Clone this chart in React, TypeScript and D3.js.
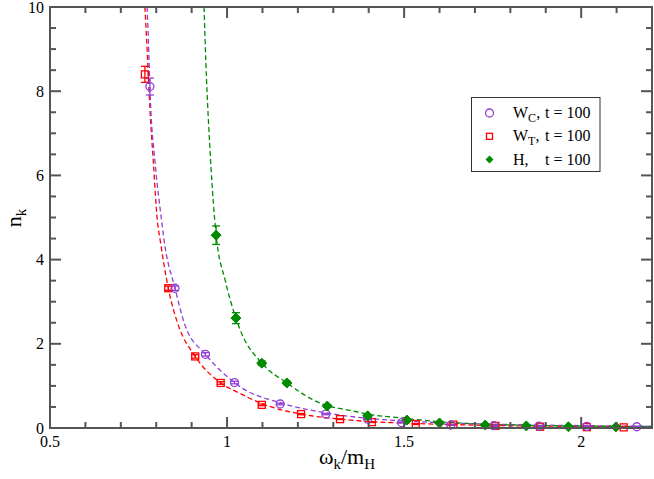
import * as d3 from 'd3';
import React, { useEffect, useRef } from 'react';

// W_C, t = 100 (open circles)
const wcX = [0.782, 0.853, 0.939, 1.021, 1.15, 1.279, 1.397, 1.493, 1.632, 1.754, 1.881, 2.016, 2.157];
const wcY = [8.11, 3.32, 1.75, 1.08, 0.57, 0.33, 0.21, 0.13, 0.07, 0.055, 0.045, 0.04, 0.03];
const wcErr = [0.2, 0.05, 0.04, 0.03, 0.02, 0.015, 0.01, 0.01, 0.01, 0.01, 0.01, 0.01, 0.01];

// W_T, t = 100 (open squares)
const wtX = [0.768, 0.834, 0.91, 0.982, 1.098, 1.209, 1.319, 1.409, 1.533, 1.639, 1.758, 1.884, 2.016, 2.12];
const wtY = [8.4, 3.32, 1.7, 1.07, 0.55, 0.33, 0.21, 0.14, 0.095, 0.08, 0.05, 0.03, 0.02, 0.015];
const wtErr = [0.19, 0.05, 0.04, 0.03, 0.02, 0.015, 0.01, 0.01, 0.01, 0.01, 0.01, 0.01, 0.01, 0.01];

// H, t = 100 (filled diamonds)
const hX = [0.969, 1.025, 1.098, 1.169, 1.283, 1.397, 1.508, 1.6, 1.729, 1.845, 1.964, 2.098];
const hY = [4.58, 2.61, 1.54, 1.07, 0.52, 0.29, 0.19, 0.12, 0.07, 0.05, 0.03, 0.025];
const hErr = [0.22, 0.13, 0.05, 0.04, 0.03, 0.02, 0.015, 0.01, 0.01, 0.01, 0.01, 0.01];

// dashed fit curves
const wcFitX = [0.774, 0.778, 0.782, 0.797, 0.815, 0.822, 0.853, 0.881, 0.939, 1.021, 1.037, 1.15, 1.279, 1.397, 1.489, 1.63, 1.75, 1.88, 2.02, 2.2];
const wcFitY = [10, 9.2, 8.11, 6.29, 4.94, 4.47, 3.32, 2.45, 1.75, 1.08, 0.98, 0.6, 0.36, 0.23, 0.17, 0.12, 0.09, 0.07, 0.055, 0.04];
const wtFitX = [0.768, 0.773, 0.782, 0.792, 0.803, 0.811, 0.834, 0.862, 0.91, 0.982, 1.037, 1.098, 1.209, 1.319, 1.409, 1.489, 1.6, 1.75, 1.9, 2.05, 2.2];
const wtFitY = [10, 9.2, 7.6, 6.29, 4.94, 4.47, 3.32, 2.45, 1.7, 1.07, 0.82, 0.58, 0.33, 0.21, 0.15, 0.12, 0.09, 0.06, 0.045, 0.035, 0.028];
const hFitX = [0.935, 0.938, 0.954, 0.969, 0.995, 1.025, 1.037, 1.098, 1.169, 1.263, 1.283, 1.347, 1.397, 1.489, 1.6, 1.73, 1.85, 1.96, 2.1, 2.2];
const hFitY = [10, 9.2, 6.29, 4.6, 3.5, 2.61, 2.33, 1.54, 1.07, 0.59, 0.53, 0.42, 0.33, 0.24, 0.15, 0.09, 0.065, 0.05, 0.04, 0.035];

const xTicks = [0.5, 1, 1.5, 2];
const yTicks = [0, 2, 4, 6, 8, 10];

const PURPLE = '#9040d8';
const RED = '#ff0000';
const GREEN = '#008a00';
const AXIS = '#555';
const FONT = 'Liberation Serif, Times New Roman, serif';

const W = 654;
const H = 479;
const margin = { left: 50, top: 7, right: 2, bottom: 51 };

const App: React.FC = () => {
  const ref = useRef<SVGSVGElement | null>(null);

  useEffect(() => {
    const svg = d3.select(ref.current);
    svg.selectAll('*').remove();

    const x0 = margin.left;
    const x1 = W - margin.right;
    const y0 = H - margin.bottom;
    const y1 = margin.top;

    const x = d3.scaleLinear().domain([0.5, 2.2]).range([x0, x1]);
    const y = d3.scaleLinear().domain([0, 10]).range([y0, y1]);

    svg.append('rect').attr('width', W).attr('height', H).attr('fill', '#fff');

    svg
      .append('clipPath')
      .attr('id', 'plot-clip')
      .append('rect')
      .attr('x', x0)
      .attr('y', y1)
      .attr('width', x1 - x0)
      .attr('height', y0 - y1);

    // Fit curves
    const line = d3
      .line<[number, number]>()
      .x(d => x(d[0]))
      .y(d => y(d[1]))
      .curve(d3.curveMonotoneX);

    const fits: [number[], number[], string][] = [
      [wtFitX, wtFitY, RED],
      [wcFitX, wcFitY, PURPLE],
      [hFitX, hFitY, GREEN],
    ];
    const curves = svg.append('g').attr('clip-path', 'url(#plot-clip)');
    fits.forEach(([xs, ys, color]) => {
      curves
        .append('path')
        .datum(xs.map((v, i) => [v, ys[i]] as [number, number]))
        .attr('d', line)
        .attr('fill', 'none')
        .attr('stroke', color)
        .attr('stroke-width', 1.3)
        .attr('stroke-dasharray', '5,3');
    });

    // Error bars
    const errBars = (xs: number[], ys: number[], es: number[], color: string) => {
      const g = svg.append('g').attr('stroke', color).attr('stroke-width', 1.3);
      xs.forEach((v, i) => {
        const cx = x(v);
        const top = y(ys[i] + es[i]);
        const bot = y(ys[i] - es[i]);
        g.append('line').attr('x1', cx).attr('x2', cx).attr('y1', top).attr('y2', bot);
        g.append('line').attr('x1', cx - 4).attr('x2', cx + 4).attr('y1', top).attr('y2', top);
        g.append('line').attr('x1', cx - 4).attr('x2', cx + 4).attr('y1', bot).attr('y2', bot);
      });
    };
    errBars(wtX, wtY, wtErr, RED);
    errBars(wcX, wcY, wcErr, PURPLE);
    errBars(hX, hY, hErr, GREEN);

    // Markers
    const drawCircle = (g: any, cx: number, cy: number) =>
      g.append('circle').attr('cx', cx).attr('cy', cy).attr('r', 4).attr('fill', 'none').attr('stroke', PURPLE).attr('stroke-width', 1.3);
    const drawSquare = (g: any, cx: number, cy: number) =>
      g.append('rect').attr('x', cx - 3.5).attr('y', cy - 3.5).attr('width', 7).attr('height', 7).attr('fill', 'none').attr('stroke', RED).attr('stroke-width', 1.3);
    const drawDiamond = (g: any, cx: number, cy: number) =>
      g
        .append('path')
        .attr('d', `M${cx},${cy - 5}L${cx + 5},${cy}L${cx},${cy + 5}L${cx - 5},${cy}Z`)
        .attr('fill', GREEN)
        .attr('stroke', GREEN)
        .attr('stroke-width', 1);

    const marks = svg.append('g');
    wtX.forEach((v, i) => drawSquare(marks, x(v), y(wtY[i])));
    wcX.forEach((v, i) => drawCircle(marks, x(v), y(wcY[i])));
    hX.forEach((v, i) => drawDiamond(marks, x(v), y(hY[i])));

    // Frame and ticks (inward, mirrored)
    const axes = svg.append('g').attr('stroke', AXIS).attr('fill', 'none');
    axes
      .append('rect')
      .attr('x', x0)
      .attr('y', y1)
      .attr('width', x1 - x0)
      .attr('height', y0 - y1)
      .attr('stroke-width', 2);

    const xMinor = d3.range(6, 22).map(d => d / 10);
    xMinor.forEach(v => {
      const major = Math.abs(v * 2 - Math.round(v * 2)) < 1e-6;
      const len = major ? 11 : 6;
      const px = x(v);
      axes.append('line').attr('x1', px).attr('x2', px).attr('y1', y0).attr('y2', y0 - len).attr('stroke-width', 2);
      axes.append('line').attr('x1', px).attr('x2', px).attr('y1', y1).attr('y2', y1 + len).attr('stroke-width', 2);
    });
    const yMinor = d3.range(1, 20).map(d => d / 2);
    yMinor.forEach(v => {
      const major = v % 2 === 0;
      const len = major ? 11 : 6;
      const py = y(v);
      axes.append('line').attr('x1', x0).attr('x2', x0 + len).attr('y1', py).attr('y2', py).attr('stroke-width', 2);
      axes.append('line').attr('x1', x1).attr('x2', x1 - len).attr('y1', py).attr('y2', py).attr('stroke-width', 2);
    });

    // Tick labels
    const labels = svg.append('g').attr('font-family', FONT).attr('font-size', 16).attr('fill', '#000');
    xTicks.forEach(v => {
      labels.append('text').attr('x', x(v)).attr('y', y0 + 19).attr('text-anchor', 'middle').text(String(v));
    });
    yTicks.forEach(v => {
      labels
        .append('text')
        .attr('x', x0 - 6)
        .attr('y', y(v))
        .attr('dy', '0.35em')
        .attr('text-anchor', 'end')
        .text(String(v));
    });

    // Axis titles
    const xTitle = svg
      .append('text')
      .attr('x', 347)
      .attr('y', 464)
      .attr('text-anchor', 'middle')
      .attr('font-family', FONT)
      .attr('font-size', 22);
    xTitle.append('tspan').text('ω');
    xTitle.append('tspan').attr('font-size', 15).attr('dy', 5).text('k');
    xTitle.append('tspan').attr('dy', -5).text('/m');
    xTitle.append('tspan').attr('font-size', 15).attr('dy', 5).text('H');

    const yTitle = svg
      .append('text')
      .attr('transform', 'translate(21,218) rotate(-90)')
      .attr('text-anchor', 'middle')
      .attr('font-family', FONT)
      .attr('font-size', 22);
    yTitle.append('tspan').text('n');
    yTitle.append('tspan').attr('font-size', 15).attr('dy', 5).text('k');

    // Legend
    const leg = svg.append('g');
    leg
      .append('rect')
      .attr('x', 471.5)
      .attr('y', 97.5)
      .attr('width', 128.5)
      .attr('height', 74)
      .attr('fill', '#fff')
      .attr('stroke', '#333')
      .attr('stroke-width', 1);

    const rows: { sym: string; main: string; sub: string }[] = [
      { sym: 'circle', main: 'W', sub: 'C' },
      { sym: 'square', main: 'W', sub: 'T' },
      { sym: 'diamond', main: 'H,', sub: '' },
    ];
    rows.forEach((r, i) => {
      const cy = 113 + i * 23.3;
      if (r.sym === 'circle') drawCircle(leg, 489.5, cy);
      else if (r.sym === 'square') {
        leg.append('rect').attr('x', 486.5).attr('y', cy - 3).attr('width', 6).attr('height', 6).attr('fill', 'none').attr('stroke', RED).attr('stroke-width', 1.3);
      } else {
        leg
          .append('path')
          .attr('d', `M489.5,${cy - 4}L493.5,${cy}L489.5,${cy + 4}L485.5,${cy}Z`)
          .attr('fill', GREEN);
      }
      const t = leg
        .append('text')
        .attr('x', 513)
        .attr('y', cy + 5)
        .attr('font-family', FONT)
        .attr('font-size', 16);
      t.append('tspan').text(r.main);
      if (r.sub) {
        t.append('tspan').attr('font-size', 12).attr('dy', 4).text(r.sub);
        t.append('tspan').attr('dy', -4).text(',');
      }
      leg
        .append('text')
        .attr('x', 545)
        .attr('y', cy + 5)
        .attr('font-family', FONT)
        .attr('font-size', 16)
        .text('t = 100');
    });
  }, []);

  return (
    <svg
      ref={ref}
      width={W}
      height={H}
      style={{ position: 'absolute', left: 0, top: 0, display: 'block' }}
    />
  );
};

export default App;
